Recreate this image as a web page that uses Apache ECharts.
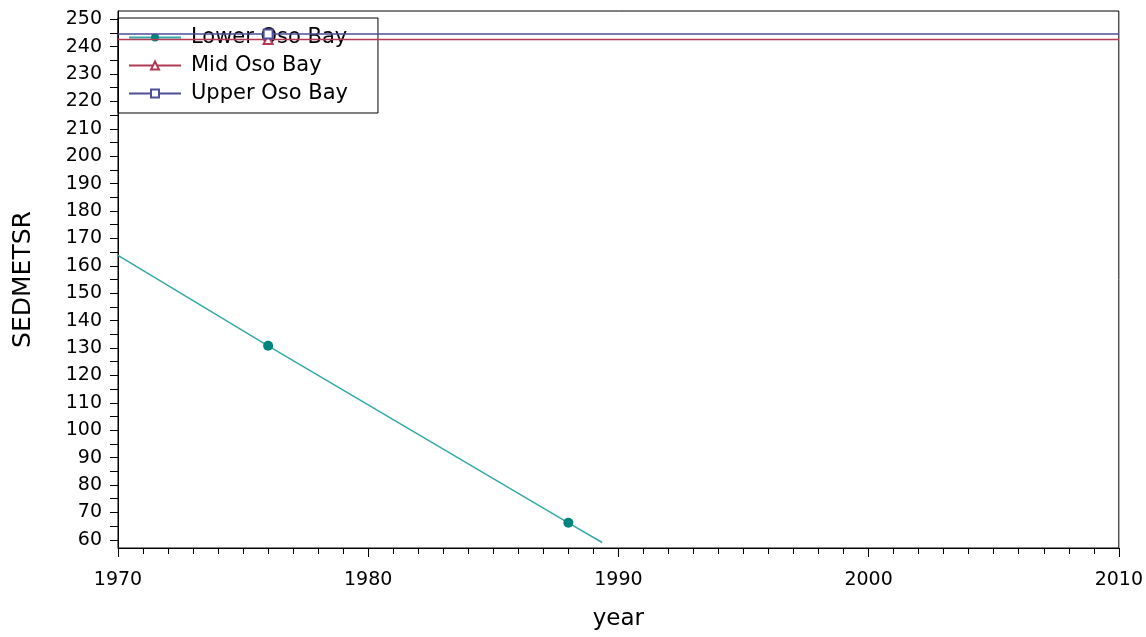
<!DOCTYPE html>
<html>
<head>
<meta charset="utf-8">
<script src="https://cdn.jsdelivr.net/npm/echarts@6/dist/echarts.min.js"></script>
<style>
  html, body { margin: 0; padding: 0; background: #fff; }
  #main { width: 1146px; height: 637px; }
</style>
</head>
<body>
<div id="main"></div>
<script>
// observed values
var lowerYears = [1976, 1988];
var lowerValues = [130.8, 66.2];
// fitted line ends for Lower Oso Bay
var lowerFitYears = [1970, 1989.35];
var lowerFitValues = [163.8, 59.0];
var midYears = [1970, 1976, 2010];
var midValues = [242.6, 242.6, 242.6];
var upperYears = [1970, 1976, 2010];
var upperValues = [244.6, 244.6, 244.6];
var yTicks = [];
for (var t = 60; t <= 250; t += 5) yTicks.push(t);
var yLabels = [60, 70, 80, 90, 100, 110, 120, 130, 140, 150, 160, 170, 180, 190, 200, 210, 220, 230, 240, 250];

var font = 'DejaVu Sans';

// line points: fit ends without marker, observations with marker
var lowerData = [{ value: [lowerFitYears[0], lowerFitValues[0]], symbol: 'none' }];
for (var i = 0; i < lowerYears.length; i++) lowerData.push([lowerYears[i], lowerValues[i]]);
lowerData.push({ value: [lowerFitYears[1], lowerFitValues[1]], symbol: 'none' });

function flat(years, values, markYear) {
  return years.map(function (y, i) {
    return y === markYear ? [y, values[i]] : { value: [y, values[i]], symbol: 'none' };
  });
}

var myChart = echarts.init(document.getElementById('main'));
var option = {
  animation: false,
  backgroundColor: '#fff',
  grid: {
    left: 118, right: 27, top: 11, bottom: 89,
    show: true, borderColor: '#000', borderWidth: 1
  },
  legend: {
    orient: 'vertical',
    left: 118, top: 18,
    z: 1,
    padding: [9, 30, 9, 10],
    itemWidth: 52, itemHeight: 10, itemGap: 7,
    borderColor: '#000', borderWidth: 1,
    textStyle: { fontFamily: font, fontSize: 21, lineHeight: 20, color: '#000', padding: [0, 0, 0, 5] },
    data: ['Lower Oso Bay', 'Mid Oso Bay', 'Upper Oso Bay']
  },
  xAxis: {
    type: 'value',
    min: 1970, max: 2010, interval: 10,
    name: 'year', nameLocation: 'middle', nameGap: 60,
    nameTextStyle: { fontFamily: font, fontSize: 23, color: '#000' },
    axisLine: { lineStyle: { color: '#000', width: 1 } },
    axisTick: { length: 9, lineStyle: { color: '#000' } },
    minorTick: { show: true, splitNumber: 10, length: 6, lineStyle: { color: '#000' } },
    axisLabel: {
      margin: 23, fontFamily: font, fontSize: 19, color: '#000',
      formatter: function (v) { return String(v); }
    },
    splitLine: { show: false }
  },
  yAxis: {
    type: 'value',
    min: 57, max: 253,
    name: 'SEDMETSR', nameLocation: 'middle', nameGap: 82,
    nameTextStyle: { fontFamily: font, fontSize: 25, color: '#000' },
    axisLine: { show: true, lineStyle: { color: '#000', width: 1 } },
    axisTick: { show: true, length: 8, customValues: yTicks, lineStyle: { color: '#000' } },
    axisLabel: { margin: 16, fontFamily: font, fontSize: 19, color: '#000', customValues: yLabels },
    splitLine: { show: false }
  },
  series: [
    {
      name: 'Lower Oso Bay',
      type: 'line',
      data: lowerData,
      symbol: 'circle', symbolSize: 10,
      itemStyle: { color: '#00857e' },
      lineStyle: { color: '#33aaa5', width: 1.5 },
      z: 3
    },
    {
      name: 'Mid Oso Bay',
      type: 'line',
      data: flat(midYears, midValues, 1976),
      symbol: 'emptyTriangle', symbolSize: 9,
      itemStyle: { color: '#b23a55' },
      lineStyle: { color: '#b23a55', width: 1.5 },
      z: 3
    },
    {
      name: 'Upper Oso Bay',
      type: 'line',
      data: flat(upperYears, upperValues, 1976),
      symbol: 'emptyRect', symbolSize: 9,
      itemStyle: { color: '#4f4f9a' },
      lineStyle: { color: '#4f4f9a', width: 1.5 },
      z: 3
    }
  ]
};
myChart.setOption(option);
</script>
</body>
</html>
